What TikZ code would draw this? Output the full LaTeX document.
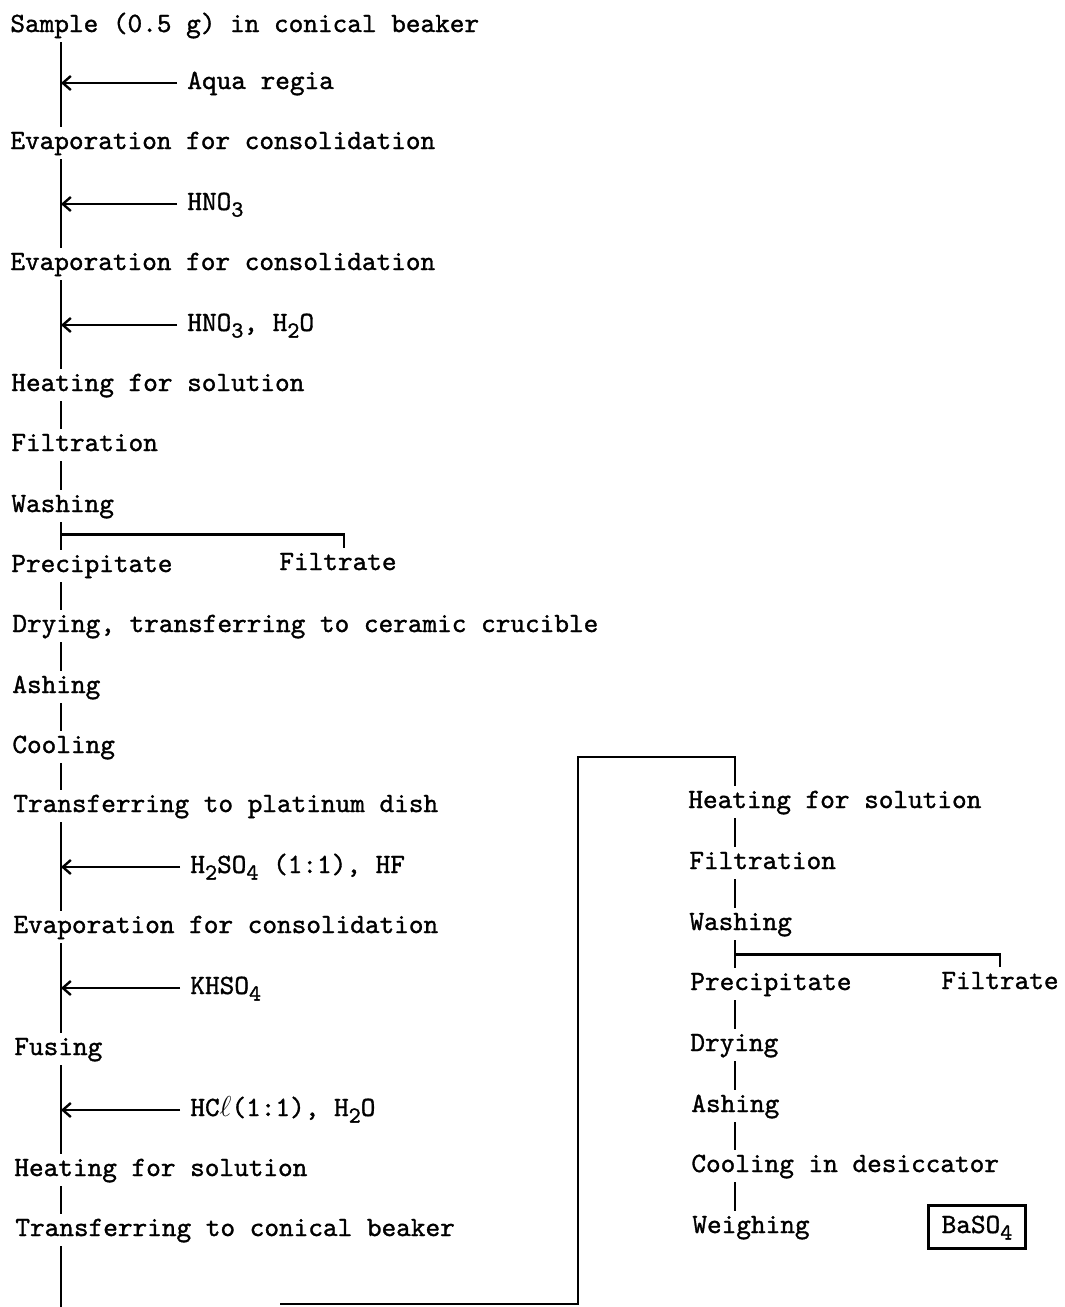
\documentclass[tikz,border=0pt]{standalone}
\usepackage{fontspec}
\setmonofont{lmmono10-regular.otf}[FakeBold=1.2]
\usepackage{tikz}
\usetikzlibrary{arrows.meta,positioning}
\newcommand{\chsub}[1]{\raisebox{-0.55ex}{\fontsize{11.5}{11.5}\selectfont #1}}

\begin{document}
\begin{tikzpicture}[x=0.5pt,y=-0.5pt,
  every node/.style={font=\ttfamily\fontsize{13.95}{16}\selectfont,
    text height=9pt, text depth=3pt, inner ysep=2pt},
  stepnode/.style={anchor=base west, inner xsep=0pt},
  addnode/.style={anchor=base west, inner xsep=5pt},
  flow/.style={line width=1.2pt},
  feed/.style={line width=1.2pt, -{Straight Barb[length=4pt,width=7pt]}}]
\useasboundingbox (0,0) rectangle (1065,1307);
\coordinate (trunk) at (61,0);
\coordinate (rtrunk) at (735,0);

% main line
\node[stepnode] (s1) at (10,32) {Sample (0.5 g) in conical beaker};
\node[addnode] (a1) at (177,89) {Aqua regia};
\node[stepnode] (s2) at (10,149) {Evaporation for consolidation};
\node[addnode] (a2) at (177,210) {HNO\chsub{3}};
\node[stepnode] (s3) at (10,270) {Evaporation for consolidation};
\node[addnode] (a3) at (177,331) {HNO\chsub{3}, H\chsub{2}O};
\node[stepnode] (s4) at (11,391) {Heating for solution};
\node[stepnode] (s5) at (11,451) {Filtration};
\node[stepnode] (s6) at (11,512) {Washing};
\node[stepnode] (s7) at (11,572) {Precipitate};
\node[stepnode] (f1) at (279,570) {Filtrate};
\node[stepnode] (s8) at (12,632) {Drying, transferring to ceramic crucible};
\node[stepnode] (s9) at (12,693) {Ashing};
\node[stepnode] (s10) at (12,753) {Cooling};
\node[stepnode] (s11) at (13,812) {Transferring to platinum dish};
\node[addnode] (a4) at (180,873) {H\chsub{2}SO\chsub{4} (1:1), HF};
\node[stepnode] (s12) at (13,933) {Evaporation for consolidation};
\node[addnode] (a5) at (180,994) {KHSO\chsub{4}};
\node[stepnode] (s13) at (14,1055) {Fusing};
\node[addnode] (a6) at (180,1116) {HC$\ell$(1:1), H\chsub{2}O};
\node[stepnode] (s14) at (14,1176) {Heating for solution};
\node[stepnode] (s15) at (15,1236) {Transferring to conical beaker};

% second line
\node[stepnode] (r1) at (688,808) {Heating for solution};
\node[stepnode] (r2) at (689,869) {Filtration};
\node[stepnode] (r3) at (689,930) {Washing};
\node[stepnode] (r4) at (690,990) {Precipitate};
\node[stepnode] (f2) at (941,989) {Filtrate};
\node[stepnode] (r5) at (690,1051) {Drying};
\node[stepnode] (r6) at (691,1112) {Ashing};
\node[stepnode] (r7) at (691,1172) {Cooling in desiccator};
\node[stepnode] (r8) at (692,1233) {Weighing};
\node[draw, line width=1.2pt, anchor=base, inner xsep=6.5pt, inner ysep=4.75pt]
  (res) at (977,1233) {BaSO\chsub{4}};

\foreach \a/\b in {s1/s2,s2/s3,s3/s4,s4/s5,s5/s6,s6/s7,s7/s8,s8/s9,s9/s10,
  s10/s11,s11/s12,s12/s13,s13/s14,s14/s15}
  \draw[flow] (\a.south -| trunk) -- (\b.north -| trunk);
\foreach \a/\b in {r1/r2,r2/r3,r3/r4,r4/r5,r5/r6,r6/r7,r7/r8}
  \draw[flow] (\a.south -| rtrunk) -- (\b.north -| rtrunk);
\foreach \n in {a1,a2,a3,a4,a5,a6}
  \draw[feed] (\n.west) -- (\n.west -| trunk);

% filtrate branches
\draw[flow] (s6.south -| trunk) ++(0,12) -| ([xshift=3pt]f1.north);
\draw[flow] (r3.south -| rtrunk) ++(0,14) -| (f2.north);

% loop to second line
\coordinate (lbot) at (61,1307);
\draw[flow] (s15.south -| trunk) -- (lbot);
\coordinate (gap) at (280,1304);
\coordinate (corner) at (578,757);
\draw[flow] (gap) -| (corner) -| (r1.north -| rtrunk);
\end{tikzpicture}
\end{document}
